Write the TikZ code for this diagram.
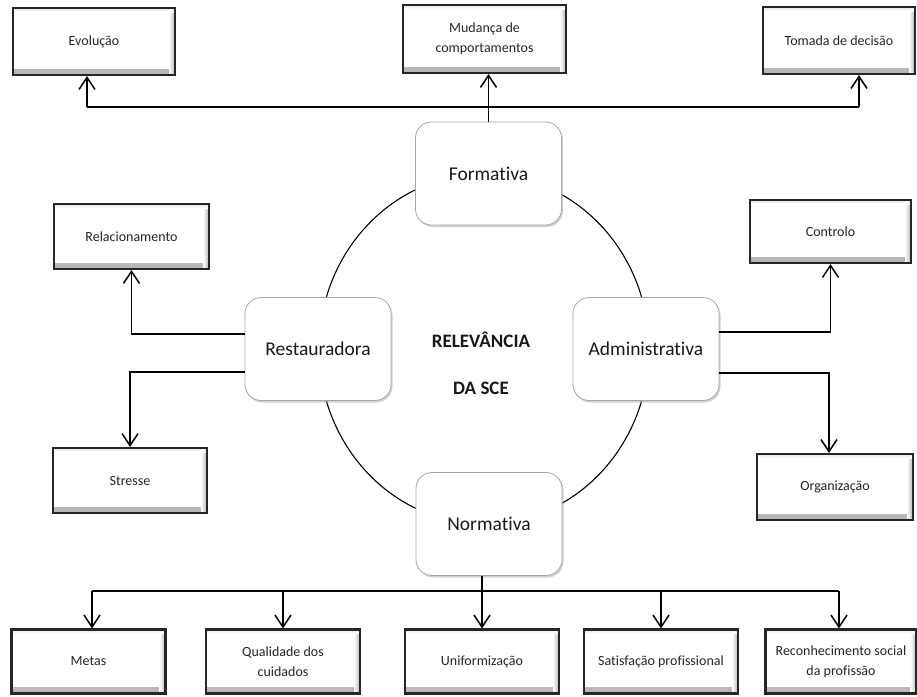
\documentclass[tikz,border=0pt]{standalone}
\usepackage{fontspec}
\setmainfont{Carlito}[Ligatures=NoCommon]
\usetikzlibrary{arrows.meta,shadows}

\begin{document}
\begin{tikzpicture}[x=1pt,y=-1pt,
  % bevelled rectangular boxes for the outcomes
  leaf/.style={draw=black!85, line width=2.2pt, fill=white, inner sep=2pt,
    minimum width=154pt, minimum height=64pt, align=center, text=black!85,
    font=\fontsize{14}{20}\selectfont,
    path picture={
      \shade[top color=white, bottom color=black!30]
        ([yshift=6pt]path picture bounding box.south west) rectangle (path picture bounding box.south east);
      \shade[left color=white, right color=black!30]
        ([xshift=-6pt]path picture bounding box.north east) rectangle (path picture bounding box.south east);
      \shade[top color=black!10, bottom color=white]
        (path picture bounding box.north west) rectangle ([yshift=-4pt]path picture bounding box.north east);
    }},
  % rounded boxes for the four functions
  core/.style={draw=black!35, line width=0.8pt, fill=white, rounded corners=16pt,
    minimum width=146pt, minimum height=103pt, text=black!90,
    font=\fontsize{19.5}{24}\selectfont,
    drop shadow={shadow xshift=1.5pt, shadow yshift=-2pt, fill=black!35, opacity=0.5}},
  conn/.style={line width=1.5pt, draw=black},
  arr/.style={conn, -{Straight Barb[length=12pt,width=16pt]}}
]
\fill[white] (0,0) rectangle (917,696);
\useasboundingbox (0,0) rectangle (917,696);

% the cycle linking the four functions
\draw[line width=1.1pt] (484,349) ellipse [x radius=165, y radius=175];

% functions
\node[core] (form) at (488.5,173.5) {Formativa};
\node[core] (rest) at (318,349) {Restauradora};
\node[core] (adm) at (646,349) {Administrativa};
\node[core] (norm) at (489,524) {Normativa};

\node[font=\bfseries\fontsize{19}{47}\selectfont, align=center, text=black!90] (title) at (481,363.5) {RELEVÂNCIA\\DA SCE};

% outcomes, top row
\node[leaf, minimum width=162pt, minimum height=67pt] (evol) at (94,41.5) {Evolução};
\node[leaf, minimum width=163pt, minimum height=68pt] (mud) at (484.5,39) {Mudança de\\comportamentos};
\node[leaf, minimum width=152pt, minimum height=67pt] (tom) at (839,40.5) {Tomada de decisão};

% outcomes, sides
\node[leaf, minimum width=155pt, minimum height=65pt] (rel) at (131.5,236.5) {Relacionamento};
\node[leaf, minimum width=154pt, minimum height=65pt] (stre) at (130,480.5) {Stresse};
\node[leaf, minimum width=161pt, minimum height=63pt] (ctrl) at (830.5,231.5) {Controlo};
\node[leaf, minimum width=156pt, minimum height=66pt] (org) at (835,487) {Organização};

% outcomes, bottom row
\node[leaf] (metas) at (88.5,661.5) {Metas};
\node[leaf] (qual) at (283,661.5) {Qualidade dos\\cuidados};
\node[leaf] (unif) at (482,661.5) {Uniformização};
\node[leaf] (sat) at (661,661.5) {Satisfação profissional};
\node[leaf, minimum width=151pt] (rec) at (841,661.5) {Reconhecimento social\\da profissão};

% top branching
\coordinate (tl) at (87,107);
\coordinate (tr) at (859,107);
\draw[conn] (tl) -- (tr);
\draw[arr] (tl) -- (tl |- evol.south);
\draw[arr] (form.north) -- (form.north |- mud.south);
\draw[arr] (tr) -- (tr |- tom.south);

% bottom branching
\coordinate (bl) at (92,591);
\coordinate (br) at (839,591);
\draw[conn] (bl) -- (br);
\draw[arr] (bl) -- (bl |- metas.north);
\draw[arr] (qual.north |- bl) -- (qual.north);
\draw[arr] (norm.south -| unif.north) -- (unif.north);
\draw[arr] (sat.north |- bl) -- (sat.north);
\draw[arr] (br) -- (br |- rec.north);

% side branches
\draw[arr] ([yshift=15pt]rest.west) -| (rel.south);
\draw[arr] ([yshift=-23pt]rest.west) -| (stre.north);
\draw[arr] ([yshift=17pt]adm.east) -| (ctrl.south);
\draw[arr] ([yshift=-24pt]adm.east) -| ([xshift=-6pt]org.north);
\end{tikzpicture}
\end{document}
